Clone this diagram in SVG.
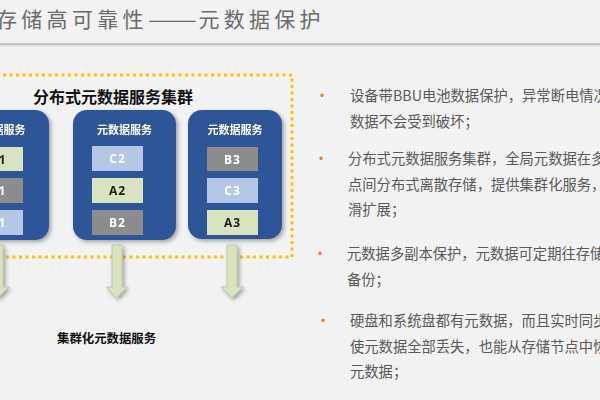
<svg xmlns="http://www.w3.org/2000/svg" width="600" height="400" viewBox="0 0 600 400">
<defs>
<filter id="sh" x="-20%" y="-20%" width="150%" height="150%">
<feGaussianBlur in="SourceAlpha" stdDeviation="2"/>
<feOffset dx="2" dy="2" result="b"/>
<feComponentTransfer><feFuncA type="linear" slope="0.35"/></feComponentTransfer>
<feMerge><feMergeNode/><feMergeNode in="SourceGraphic"/></feMerge>
</filter>
<style>
.title{font-family:"Noto Sans CJK SC","Noto Sans",sans-serif;font-size:21px;fill:#6b6b6b}
.box{fill:#2f5597}
.hdr{font-family:"Noto Sans CJK SC","Noto Sans",sans-serif;font-size:11px;font-weight:bold;fill:#ffffff;text-anchor:middle}
.cell{font-family:"Open Sans","Noto Sans",sans-serif;font-size:12px;font-weight:bold;text-anchor:middle;letter-spacing:1px}
.ca{fill:#d8e4bf}
.cb{fill:#8c8c8c}
.cc{fill:#b4c7e7}
.ta{fill:#1a1a1a}
.tw{fill:#ffffff}
.arrow{fill:#d7e4bd;stroke:#b5bea6;stroke-width:0.8}
.body{font-family:"Noto Sans CJK SC","Noto Sans",sans-serif;font-size:14.3px;fill:#595959}
.bul{font-family:"Liberation Sans",sans-serif;font-size:12px;fill:#ed7d31}
.bold{font-family:"Noto Sans CJK SC","Noto Sans",sans-serif;font-weight:bold;fill:#111111}
</style>
</defs>
<rect width="600" height="400" fill="#f2f2f2"/>
<text class="title" y="27"><tspan x="-4 21.3 46.6 71.9 97.2 122.5">存储高可靠性</tspan><tspan x="148" textLength="49" lengthAdjust="spacingAndGlyphs">——</tspan><tspan x="198.4 223.7 249 274.3 299.6">元数据保护</tspan></text>
<rect x="0" y="43" width="600" height="2.5" fill="#c4c4c4"/>
<rect x="0" y="45.5" width="600" height="1" fill="#dcdcdc"/>

<rect x="-10" y="75" width="302" height="182" fill="none" stroke="#ffc000" stroke-width="3" stroke-dasharray="3 3.5"/>
<text class="bold" x="33" y="103" font-size="16">分布式元数据服务集群</text>

<g id="node1" filter="url(#sh)">
<rect class="box" x="-54" y="110" width="103" height="130" rx="14"/>
<text class="hdr" x="-2" y="134">元数据服务</text>
<rect class="ca" x="-28" y="147" width="51" height="24"/><text class="cell ta" x="-2" y="164">A1</text>
<rect class="cb" x="-28" y="178" width="51" height="25"/><text class="cell tw" x="-2" y="195">B1</text>
<rect class="cc" x="-28" y="210" width="51" height="25"/><text class="cell tw" x="-2" y="227">C1</text>
</g>
<g id="node2" filter="url(#sh)">
<rect class="box" x="73" y="110" width="103" height="130" rx="14"/>
<text class="hdr" x="124.5" y="134">元数据服务</text>
<rect class="cc" x="92" y="146" width="51" height="25"/><text class="cell tw" x="117.5" y="163">C2</text>
<rect class="ca" x="92" y="178" width="51" height="25"/><text class="cell ta" x="117.5" y="195">A2</text>
<rect class="cb" x="92" y="210" width="51" height="25"/><text class="cell tw" x="117.5" y="227">B2</text>
</g>
<g id="node3" filter="url(#sh)">
<rect class="box" x="188" y="110" width="94" height="129" rx="14"/>
<text class="hdr" x="235" y="134">元数据服务</text>
<rect class="cb" x="207" y="147" width="51" height="24"/><text class="cell tw" x="232.5" y="164">B3</text>
<rect class="cc" x="207" y="178" width="51" height="25"/><text class="cell tw" x="232.5" y="195">C3</text>
<rect class="ca" x="207" y="210" width="51" height="25"/><text class="cell ta" x="232.5" y="227">A3</text>
</g>

<g id="connectors" filter="url(#sh)">
<path class="arrow" d="M-7,245 H3 V287 H9 L-2,298 L-13,287 H-7 Z"/>
<path class="arrow" d="M112,245 H122 V287 H127 L116.5,298 L106,287 H112 Z"/>
<path class="arrow" d="M227,245 H237 V287 H243 L232,298 L221,287 H227 Z"/>
</g>

<text class="bold" x="57" y="343" font-size="12.4">集群化元数据服务</text>

<g id="bullets">
<text class="bul" x="320" y="100">•</text>
<text class="body" x="350" y="101">设备带BBU电池数据保护，异常断电情况</text>
<text class="body" x="350" y="127">数据不会受到破坏；</text>
<text class="bul" x="319" y="163">•</text>
<text class="body" x="348" y="164">分布式元数据服务集群，全局元数据在多</text>
<text class="body" x="348" y="190">点间分布式离散存储，提供集群化服务，</text>
<text class="body" x="348" y="215">滑扩展；</text>
<text class="bul" x="318" y="258">•</text>
<text class="body" x="347" y="259">元数据多副本保护，元数据可定期往存储</text>
<text class="body" x="347" y="285">备份；</text>
<text class="bul" x="321" y="325">•</text>
<text class="body" x="350" y="326">硬盘和系统盘都有元数据，而且实时同步</text>
<text class="body" x="350" y="352">使元数据全部丢失，也能从存储节点中恢</text>
<text class="body" x="350" y="377">元数据；</text>
</g>
</svg>
